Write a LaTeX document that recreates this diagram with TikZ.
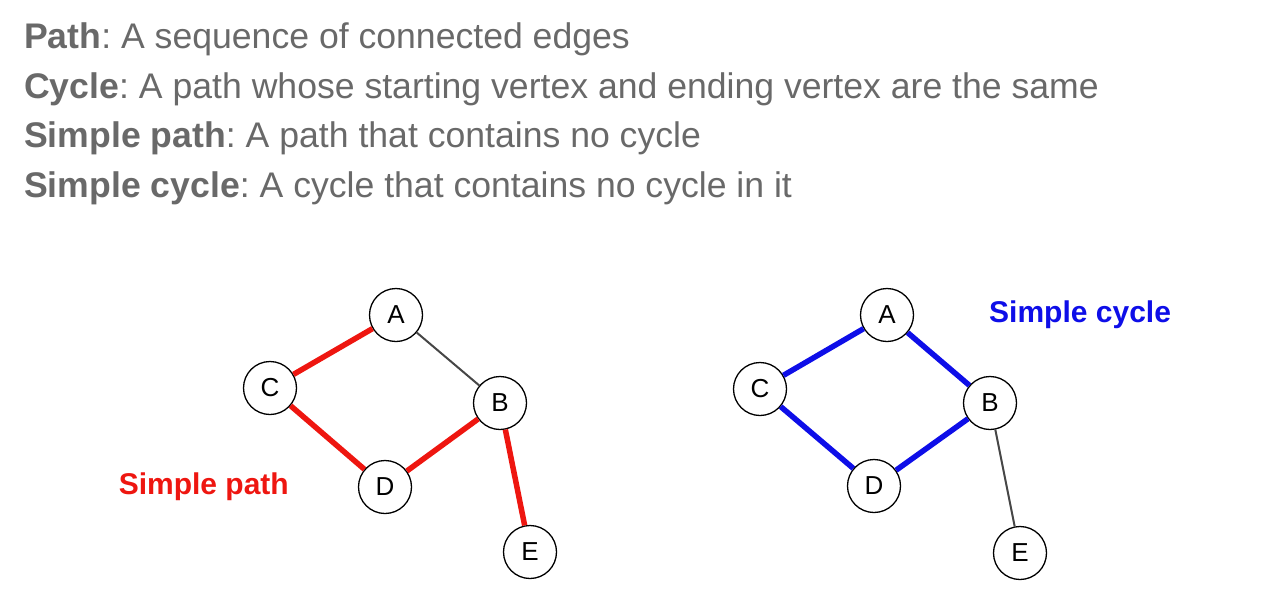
\documentclass[tikz,border=0pt]{standalone}
\usepackage{fontspec}
\setmainfont{Liberation Sans}
\usetikzlibrary{positioning}
\definecolor{textgray}{RGB}{105,105,105}
\definecolor{pathred}{RGB}{238,22,16}
\definecolor{cycleblue}{RGB}{14,14,232}
\definecolor{edgegray}{RGB}{70,70,70}
\frenchspacing

\begin{document}
\begin{tikzpicture}[x=1pt, y=-1pt,
    defn/.style = {anchor=base west, inner sep=0pt, text=textgray,
                   font=\fontsize{35.6}{40}\selectfont},
    vertex/.style = {circle, draw=black, line width=1.3pt, fill=white,
                     minimum size=53pt, inner sep=0pt,
                     font=\fontsize{26}{30}\selectfont},
    plain/.style = {line width=2pt, edgegray},
    redge/.style = {line width=5.5pt, pathred},
    bedge/.style = {line width=5.5pt, cycleblue},
    tag/.style = {inner sep=0pt, font=\bfseries\fontsize{30}{34}\selectfont},
]
\useasboundingbox (0,0) rectangle (1271,595);

%% ---- Definitions ----
\node[defn] (d1) at (24, 48)  {\textbf{Path}: A sequence of connected edges};
\node[defn] (d2) at (24, 98)  {\textbf{Cycle}: A path whose starting vertex and ending vertex are the same};
\node[defn] (d3) at (24, 147) {\textbf{Simple path}: A path that contains no cycle};
\node[defn] (d4) at (24, 197) {\textbf{Simple cycle}: A cycle that contains no cycle in it};

%% ---- Left graph: simple path ----
\node[vertex] (la) at (396, 315) {A};
\node[vertex] (lc) at (270, 388) {C};
\node[vertex] (lb) at (500, 403) {B};
\node[vertex] (ld) at (385, 487) {D};
\node[vertex] (le) at (530, 552) {E};

\draw[redge] (lc) -- (la);
\draw[plain] (la) -- (lb);
\draw[redge] (lc) -- (ld);
\draw[redge] (ld) -- (lb);
\draw[redge] (lb) -- (le);

\node[tag, text=pathred, anchor=east] (lpath) at (289, 487) {Simple path};

%% ---- Right graph: simple cycle ----
\node[vertex] (ra) at (887, 315)  {A};
\node[vertex] (rc) at (760, 389)  {C};
\node[vertex] (rb) at (990, 403)  {B};
\node[vertex] (rd) at (874, 486)  {D};
\node[vertex] (re) at (1020, 553) {E};

\draw[bedge] (rc) -- (ra);
\draw[bedge] (ra) -- (rb);
\draw[bedge] (rb) -- (rd);
\draw[bedge] (rd) -- (rc);
\draw[plain] (rb) -- (re);

\node[tag, text=cycleblue, anchor=west] (rcycle) at (989, 315) {Simple cycle};

\end{tikzpicture}
\end{document}
